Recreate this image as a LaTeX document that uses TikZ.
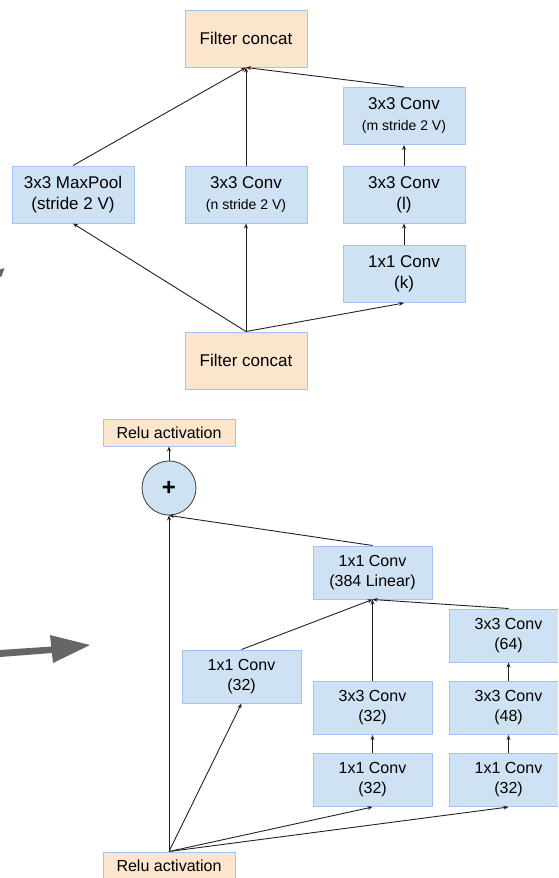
\documentclass[tikz,border=0pt]{standalone}
\usepackage{fontspec}
\setmainfont{Liberation Sans}
\usetikzlibrary{arrows.meta}
\definecolor{bfill}{HTML}{CFE2F3}
\definecolor{ofill}{HTML}{FCE5CD}
\definecolor{bline}{HTML}{A4C2F4}
\definecolor{grarrow}{HTML}{666666}
\definecolor{conn}{HTML}{222222}
\tikzset{
  topbox/.style={draw=bline, line width=1pt, fill=bfill, minimum width=122pt, minimum height=57pt, inner sep=0pt, align=center, font=\fontsize{17}{21}\selectfont},
  topcat/.style={topbox, fill=ofill},
  botbox/.style={draw=bline, line width=1pt, fill=bfill, minimum width=119pt, minimum height=53pt, inner sep=0pt, align=center, font=\fontsize{16}{20}\selectfont},
  relubox/.style={draw=bline, line width=1pt, fill=ofill, minimum width=132pt, minimum height=27pt, inner sep=0pt, align=center, font=\fontsize{16}{20}\selectfont},
  sumnode/.style={circle, draw=black!70, line width=0.9pt, fill=bfill, minimum size=54pt, inner sep=0pt, font=\fontsize{24}{24}\selectfont\bfseries},
  conarrow/.style={draw=conn, line width=0.9pt, -{Stealth[length=5pt,width=4pt]}}
}
\newcommand{\sm}{\fontsize{14}{17}\selectfont}
\begin{document}
\begin{tikzpicture}[x=1pt,y=-1pt]
\useasboundingbox (0,0) rectangle (558,878);
\clip (0,0) rectangle (558,878);
% top part
\node[topcat] (tc) at (246,38.5) {Filter concat};
\node[topbox] (mp) at (73,194.5) {3x3 MaxPool\\(stride 2 V)};
\node[topbox] (cn) at (246,194.5) {3x3 Conv\\{\sm (n stride 2 V)}};
\node[topbox] (cm) at (404,116) {3x3 Conv\\{\sm (m stride 2 V)}};
\node[topbox] (cl) at (404,194.5) {3x3 Conv\\(l)};
\node[topbox] (ck) at (404,274) {1x1 Conv\\(k)};
\node[topcat] (bc) at (246,360.5) {Filter concat};
\draw[conarrow] (mp.north) -- (tc.south);
\draw[conarrow] (cn.north) -- (tc.south);
\draw[conarrow] (cm.north) -- (tc.south);
\draw[conarrow] (cl.north) -- (cm.south);
\draw[conarrow] (ck.north) -- (cl.south);
\draw[conarrow] (bc.north) -- (mp.south);
\draw[conarrow] (bc.north) -- (cn.south);
\draw[conarrow] (bc.north) -- (ck.south);
% bottom part
\node[relubox] (r1) at (169,432.5) {Relu activation};
\node[sumnode] (plus) at (169,488) {+};
\node[botbox] (lin) at (372.5,572.5) {1x1 Conv\\(384 Linear)};
\node[botbox] (c64) at (508.5,635.5) {3x3 Conv\\(64)};
\node[botbox] (l32) at (241.5,676.5) {1x1 Conv\\(32)};
\node[botbox] (m33) at (372.5,708) {3x3 Conv\\(32)};
\node[botbox] (m11) at (372.5,780) {1x1 Conv\\(32)};
\node[botbox] (r33) at (508.5,708) {3x3 Conv\\(48)};
\node[botbox] (r11) at (508.5,780) {1x1 Conv\\(32)};
\node[relubox] (r0) at (169,865.5) {Relu activation};
\draw[conarrow] (plus.north) -- (r1.south);
\draw[conarrow] (lin.north) -- (plus.south);
\draw[conarrow] (l32.north) -- (lin.south);
\draw[conarrow] (m33.north) -- (lin.south);
\draw[conarrow] (c64.north) -- (lin.south);
\draw[conarrow] (m11.north) -- (m33.south);
\draw[conarrow] (r11.north) -- (r33.south);
\draw[conarrow] (r33.north) -- (c64.south);
\draw[conarrow] (r0.north) -- (plus.south);
\draw[conarrow] (r0.north) -- (l32.south);
\draw[conarrow] (r0.north) -- (m11.south);
\draw[conarrow] (r0.north) -- (r11.south);
% big gray arrow
\fill[grarrow] (0,650) -- (52,646.5) -- (52,653) -- (0,657) -- cycle;
\fill[grarrow] (50,635) -- (90,645) -- (53,663) -- cycle;
% small gray fragment at left edge
\fill[grarrow] (0,269.5) -- (4.5,268) -- (1.5,276.5) -- (0,276.5) -- cycle;
\end{tikzpicture}
\end{document}
